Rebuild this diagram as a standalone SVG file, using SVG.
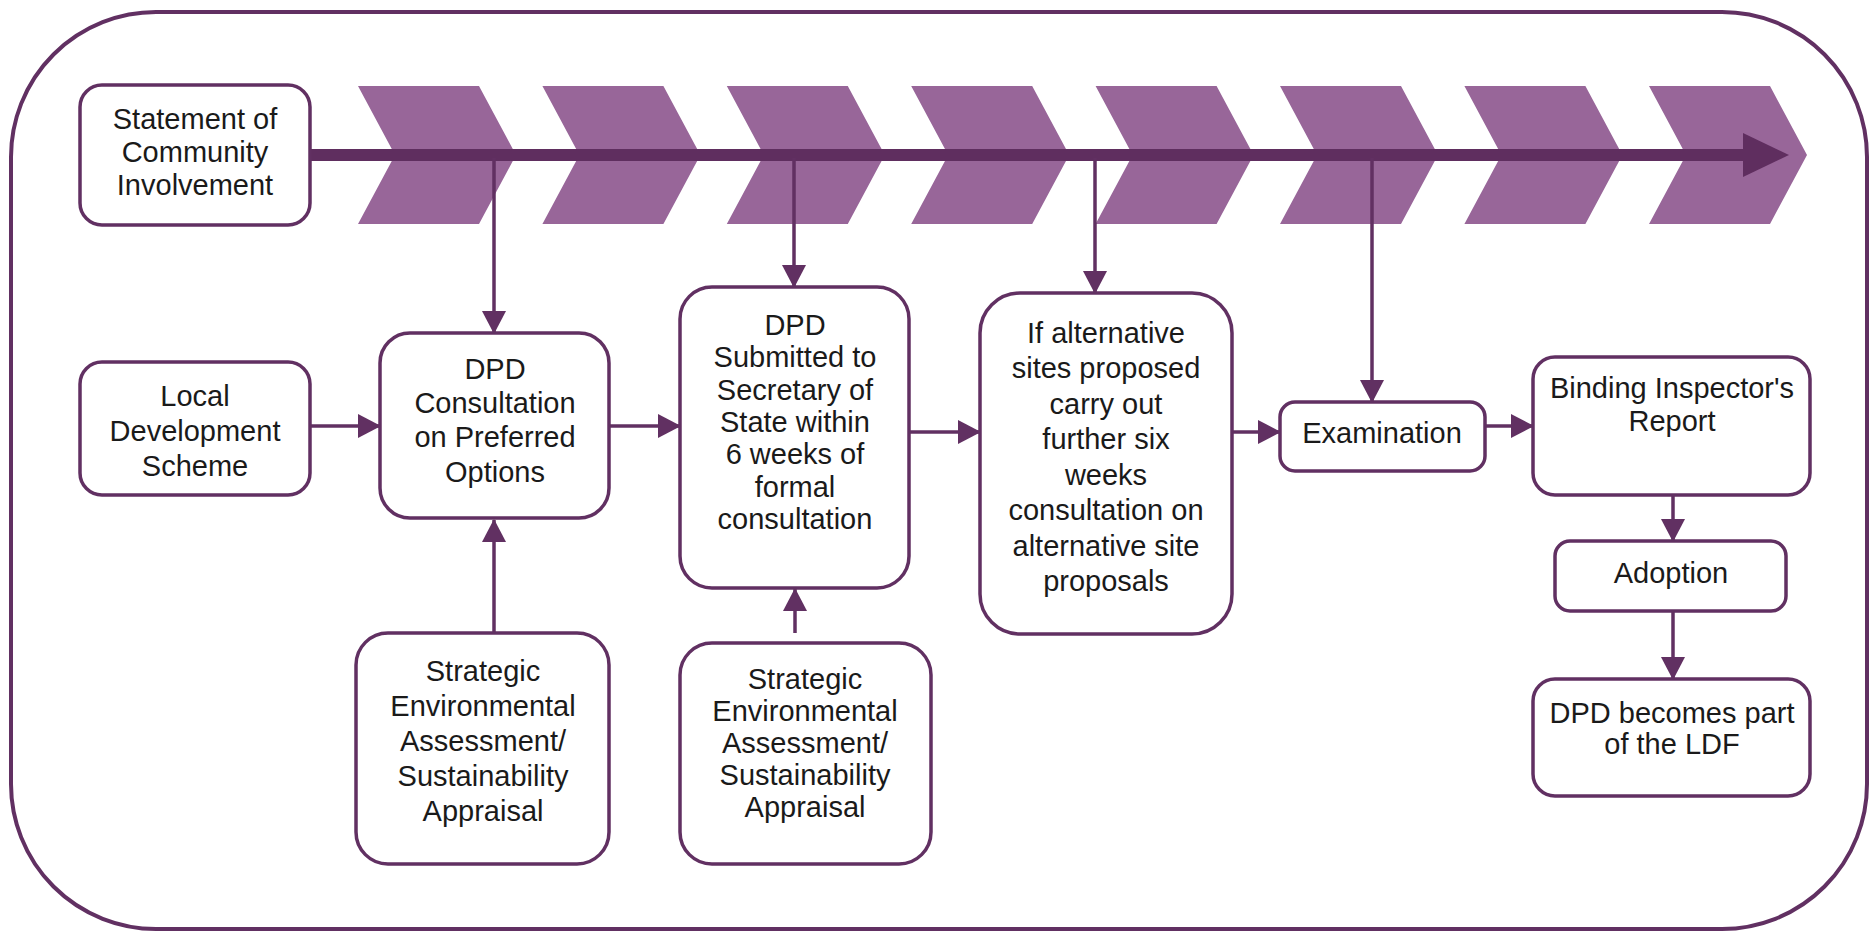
<svg xmlns="http://www.w3.org/2000/svg" width="1870" height="932" viewBox="0 0 1870 932">
<style>
.frame{fill:#ffffff;stroke:#613062;stroke-width:4}
.chev{fill:#986699}
.box{fill:#ffffff;stroke:#613062;stroke-width:3.5}
.con{fill:none;stroke:#613062;stroke-width:3.5}
.main{fill:none;stroke:#5f2e5f;stroke-width:12}
text{font-family:"Liberation Sans",Arial,sans-serif;font-size:29px;fill:#1a1a1a;text-anchor:middle}
</style>
<defs>
<marker id="ah" viewBox="0 0 23 24" refX="22" refY="12" markerWidth="23" markerHeight="24" markerUnits="userSpaceOnUse" orient="auto">
<path d="M0,0 L23,12 L0,24 z" fill="#613062"/>
</marker>
<marker id="bigah" viewBox="0 0 46 44" refX="2" refY="22" markerWidth="46" markerHeight="44" markerUnits="userSpaceOnUse" orient="auto">
<path d="M0,0 L46,22 L0,44 z" fill="#5f2e5f"/>
</marker>
<polygon id="chevshape" points="0,86 121,86 158,155 121,224 0,224 37,155"/>
</defs>
<rect class="frame" x="11" y="12" width="1856" height="917" rx="145" ry="145"/>
<g id="timeline">
<use href="#chevshape" class="chev" x="358"/>
<use href="#chevshape" class="chev" x="542.4"/>
<use href="#chevshape" class="chev" x="726.8"/>
<use href="#chevshape" class="chev" x="911.2"/>
<use href="#chevshape" class="chev" x="1095.6"/>
<use href="#chevshape" class="chev" x="1280"/>
<use href="#chevshape" class="chev" x="1464.4"/>
<use href="#chevshape" class="chev" x="1649"/>
<line class="main" x1="308" y1="155" x2="1745" y2="155" marker-end="url(#bigah)"/>
</g>
<g id="connectors">
<line class="con" x1="494" y1="158" x2="494" y2="333" marker-end="url(#ah)"/>
<line class="con" x1="794" y1="158" x2="794" y2="287" marker-end="url(#ah)"/>
<line class="con" x1="1095" y1="158" x2="1095" y2="293" marker-end="url(#ah)"/>
<line class="con" x1="1372" y1="158" x2="1372" y2="402" marker-end="url(#ah)"/>
<line class="con" x1="310" y1="426" x2="380" y2="426" marker-end="url(#ah)"/>
<line class="con" x1="609" y1="426" x2="680" y2="426" marker-end="url(#ah)"/>
<line class="con" x1="909" y1="432" x2="980" y2="432" marker-end="url(#ah)"/>
<line class="con" x1="1232" y1="432" x2="1280" y2="432" marker-end="url(#ah)"/>
<line class="con" x1="1485" y1="426" x2="1533" y2="426" marker-end="url(#ah)"/>
<line class="con" x1="494" y1="633" x2="494" y2="520" marker-end="url(#ah)"/>
<line class="con" x1="795" y1="633" x2="795" y2="589" marker-end="url(#ah)"/>
<line class="con" x1="1673" y1="495" x2="1673" y2="541" marker-end="url(#ah)"/>
<line class="con" x1="1673" y1="611" x2="1673" y2="679" marker-end="url(#ah)"/>
</g>
<g id="sci">
<rect class="box" x="80" y="85" width="230" height="140" rx="22"/>
<text x="195" y="129">Statement of</text>
<text x="195" y="162">Community</text>
<text x="195" y="195">Involvement</text>
</g>
<g id="lds">
<rect class="box" x="80" y="362" width="230" height="133" rx="22"/>
<text x="195" y="406">Local</text>
<text x="195" y="441">Development</text>
<text x="195" y="476">Scheme</text>
</g>
<g id="dpd-consultation">
<rect class="box" x="380" y="333" width="229" height="185" rx="30"/>
<text x="495" y="379">DPD</text>
<text x="495" y="413">Consultation</text>
<text x="495" y="447">on Preferred</text>
<text x="495" y="482">Options</text>
</g>
<g id="sea1">
<rect class="box" x="356" y="633" width="253" height="231" rx="32"/>
<text x="483" y="681">Strategic</text>
<text x="483" y="716">Environmental</text>
<text x="483" y="751">Assessment/</text>
<text x="483" y="786">Sustainability</text>
<text x="483" y="821">Appraisal</text>
</g>
<g id="dpd-submitted">
<rect class="box" x="680" y="287" width="229" height="301" rx="32"/>
<text x="795" y="335">DPD</text>
<text x="795" y="367">Submitted to</text>
<text x="795" y="400">Secretary of</text>
<text x="795" y="432">State within</text>
<text x="795" y="464">6 weeks of</text>
<text x="795" y="497">formal</text>
<text x="795" y="529">consultation</text>
</g>
<g id="sea2">
<rect class="box" x="680" y="643" width="251" height="221" rx="32"/>
<text x="805" y="689">Strategic</text>
<text x="805" y="721">Environmental</text>
<text x="805" y="753">Assessment/</text>
<text x="805" y="785">Sustainability</text>
<text x="805" y="817">Appraisal</text>
</g>
<g id="alternative-sites">
<rect class="box" x="980" y="293" width="252" height="341" rx="40"/>
<text x="1106" y="343">If alternative</text>
<text x="1106" y="378">sites proposed</text>
<text x="1106" y="414">carry out</text>
<text x="1106" y="449">further six</text>
<text x="1106" y="485">weeks</text>
<text x="1106" y="520">consultation on</text>
<text x="1106" y="556">alternative site</text>
<text x="1106" y="591">proposals</text>
</g>
<g id="examination">
<rect class="box" x="1280" y="402" width="205" height="69" rx="15"/>
<text x="1382" y="443">Examination</text>
</g>
<g id="binding-report">
<rect class="box" x="1533" y="357" width="277" height="138" rx="22"/>
<text x="1672" y="398">Binding Inspector's</text>
<text x="1672" y="431">Report</text>
</g>
<g id="adoption">
<rect class="box" x="1555" y="541" width="231" height="70" rx="15"/>
<text x="1671" y="583">Adoption</text>
</g>
<g id="dpd-ldf">
<rect class="box" x="1533" y="679" width="277" height="117" rx="22"/>
<text x="1672" y="723">DPD becomes part</text>
<text x="1672" y="754">of the LDF</text>
</g>
</svg>
